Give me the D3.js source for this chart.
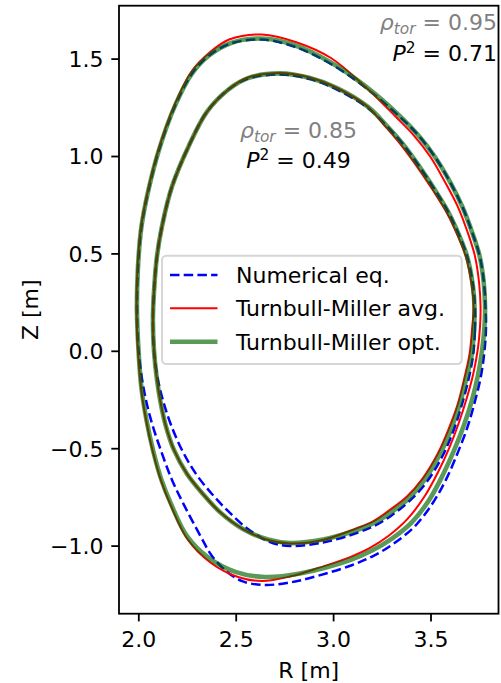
<!DOCTYPE html>
<html>
<head>
<meta charset="utf-8">
<script src="https://cdn.jsdelivr.net/npm/d3@7"></script>
<style>
  html, body { margin: 0; padding: 0; background: #fff; }
  svg { display: block; font-family: "DejaVu Sans", sans-serif; }
</style>
</head>
<body>
<svg id="chart" width="501" height="683"></svg>
<script>
// Axis limits (metres) and tick values
const rLimits = [1.9009, 3.849];
const zLimits = [-1.3496, 1.7716];
const rTicks = [2.0, 2.5, 3.0, 3.5];
const zTicks = [-1.0, -0.5, 0.0, 0.5, 1.0, 1.5];

// Flux surface at rho_tor = 0.95, [R, Z] in metres
const numerical095 = [[3.782,0.225],[3.785,0.122],[3.777,-0.001],[3.759,-0.129],[3.728,-0.260],[3.690,-0.391],[3.641,-0.520],[3.582,-0.656],[3.515,-0.776],[3.423,-0.897],[3.315,-0.987],[3.210,-1.051],[3.092,-1.102],[2.881,-1.166],[2.763,-1.192],[2.645,-1.202],[2.537,-1.184],[2.460,-1.138],[2.378,-1.053],[2.322,-0.956],[2.235,-0.792],[2.173,-0.663],[2.119,-0.520],[2.065,-0.355],[2.027,-0.191],[2.001,0.004],[1.993,0.209],[1.998,0.425],[2.016,0.636],[2.052,0.825],[2.106,1.031],[2.188,1.257],[2.276,1.424],[2.363,1.516],[2.476,1.578],[2.635,1.598],[2.799,1.562],[2.984,1.475],[3.159,1.357],[3.346,1.198],[3.436,1.108],[3.523,0.995],[3.600,0.867],[3.664,0.738],[3.713,0.610],[3.752,0.487],[3.774,0.353]];
const millerAvg095 = [[3.757,0.225],[3.754,0.122],[3.744,0.017],[3.721,-0.111],[3.687,-0.240],[3.646,-0.368],[3.598,-0.494],[3.539,-0.622],[3.469,-0.748],[3.382,-0.863],[3.287,-0.948],[3.189,-1.012],[3.087,-1.059],[2.933,-1.112],[2.779,-1.159],[2.635,-1.182],[2.512,-1.161],[2.373,-1.089],[2.255,-0.971],[2.168,-0.797],[2.117,-0.668],[2.075,-0.520],[2.040,-0.355],[2.014,-0.191],[1.998,0.004],[1.991,0.209],[1.996,0.425],[2.014,0.636],[2.050,0.825],[2.104,1.033],[2.186,1.262],[2.273,1.434],[2.363,1.529],[2.466,1.598],[2.635,1.624],[2.815,1.583],[2.989,1.503],[3.164,1.357],[3.328,1.195],[3.415,1.105],[3.500,0.995],[3.574,0.867],[3.641,0.738],[3.690,0.610],[3.728,0.487],[3.749,0.353]];
const millerOpt095 = [[3.780,0.225],[3.777,0.122],[3.765,0.004],[3.744,-0.124],[3.713,-0.253],[3.672,-0.381],[3.622,-0.509],[3.563,-0.638],[3.493,-0.766],[3.405,-0.879],[3.302,-0.964],[3.200,-1.025],[3.087,-1.074],[2.830,-1.143],[2.650,-1.161],[2.502,-1.136],[2.363,-1.064],[2.250,-0.951],[2.168,-0.786],[2.119,-0.663],[2.078,-0.520],[2.042,-0.355],[2.016,-0.191],[2.001,0.004],[1.993,0.209],[1.998,0.425],[2.016,0.636],[2.052,0.825],[2.106,1.031],[2.188,1.257],[2.276,1.424],[2.363,1.516],[2.476,1.580],[2.635,1.603],[2.799,1.570],[2.984,1.483],[3.159,1.364],[3.343,1.205],[3.436,1.108],[3.523,0.995],[3.600,0.867],[3.664,0.738],[3.713,0.610],[3.752,0.487],[3.773,0.353]];

// Flux surface at rho_tor = 0.85, [R, Z] in metres
const numerical085 = [[3.728,0.225],[3.728,0.102],[3.718,-0.027],[3.693,-0.155],[3.659,-0.283],[3.616,-0.414],[3.559,-0.545],[3.480,-0.674],[3.397,-0.766],[3.300,-0.845],[3.215,-0.897],[3.128,-0.933],[2.948,-0.984],[2.779,-1.002],[2.676,-0.982],[2.563,-0.915],[2.460,-0.822],[2.378,-0.735],[2.296,-0.632],[2.224,-0.509],[2.168,-0.381],[2.129,-0.263],[2.101,-0.150],[2.081,-0.006],[2.075,0.158],[2.081,0.312],[2.096,0.487],[2.122,0.641],[2.173,0.843],[2.258,1.049],[2.353,1.228],[2.466,1.344],[2.563,1.398],[2.727,1.418],[2.881,1.395],[3.020,1.341],[3.179,1.246],[3.272,1.157],[3.356,1.064],[3.444,0.944],[3.523,0.825],[3.585,0.723],[3.628,0.636],[3.687,0.487],[3.718,0.338]];
const millerAvg085 = [[3.721,0.225],[3.713,0.107],[3.700,-0.019],[3.672,-0.147],[3.639,-0.276],[3.592,-0.404],[3.536,-0.530],[3.459,-0.656],[3.379,-0.748],[3.284,-0.822],[3.205,-0.876],[3.118,-0.912],[2.948,-0.971],[2.779,-0.989],[2.666,-0.971],[2.537,-0.915],[2.419,-0.828],[2.332,-0.735],[2.250,-0.632],[2.183,-0.509],[2.140,-0.381],[2.114,-0.263],[2.096,-0.150],[2.081,-0.006],[2.075,0.158],[2.081,0.312],[2.096,0.487],[2.122,0.641],[2.173,0.843],[2.258,1.049],[2.353,1.228],[2.466,1.344],[2.563,1.403],[2.727,1.426],[2.881,1.403],[3.020,1.349],[3.179,1.252],[3.266,1.154],[3.349,1.056],[3.436,0.938],[3.515,0.820],[3.577,0.720],[3.621,0.633],[3.680,0.487],[3.711,0.338]];
const millerOpt085 = [[3.726,0.225],[3.723,0.107],[3.711,-0.022],[3.682,-0.150],[3.649,-0.278],[3.604,-0.407],[3.546,-0.535],[3.469,-0.663],[3.390,-0.756],[3.292,-0.833],[3.210,-0.884],[3.123,-0.920],[2.948,-0.969],[2.779,-0.987],[2.666,-0.969],[2.537,-0.915],[2.419,-0.828],[2.332,-0.735],[2.250,-0.632],[2.183,-0.509],[2.140,-0.381],[2.114,-0.263],[2.096,-0.150],[2.081,-0.006],[2.075,0.158],[2.081,0.312],[2.096,0.487],[2.122,0.641],[2.173,0.843],[2.258,1.049],[2.353,1.228],[2.466,1.344],[2.563,1.400],[2.727,1.424],[2.881,1.400],[3.020,1.349],[3.179,1.252],[3.272,1.159],[3.356,1.064],[3.444,0.944],[3.523,0.825],[3.585,0.723],[3.628,0.636],[3.687,0.487],[3.717,0.338]];

const legendLabels = ["Numerical eq.", "Turnbull-Miller avg.", "Turnbull-Miller opt."];

// Surface annotations
const rhoValues = ["0.95", "0.85"];
const fitQuality = ["0.71", "0.49"];

const svg = d3.select("#chart");
const plot = { left: 119, right: 498.5, top: 5.7, bottom: 613.7 };
const FONT = 22;

const x = d3.scaleLinear().domain(rLimits).range([plot.left, plot.right]);
const y = d3.scaleLinear().domain(zLimits).range([plot.bottom, plot.top]);

const styles = [
  { stroke: "#0000ff", width: 2.5, dash: "9.5,4.2", opacity: 1 },
  { stroke: "#ff0000", width: 2.0, dash: null, opacity: 1 },
  { stroke: "#006400", width: 4.6, dash: null, opacity: 0.65 }
];

const line = d3.line()
  .x(d => x(d[0]))
  .y(d => y(d[1]))
  .curve(d3.curveCatmullRomClosed.alpha(0.5));

const surfaces = [
  [numerical095, millerAvg095, millerOpt095],
  [numerical085, millerAvg085, millerOpt085]
];

const curves = svg.append("g");
surfaces.forEach(set => {
  set.forEach((pts, i) => {
    const s = styles[i];
    curves.append("path")
      .attr("d", line(pts))
      .attr("fill", "none")
      .attr("stroke", s.stroke)
      .attr("stroke-width", s.width)
      .attr("stroke-dasharray", s.dash)
      .attr("stroke-opacity", s.opacity)
      .attr("stroke-linejoin", "round");
  });
});

// Axes
const fmt = d3.format(".1f");
const yAxis = svg.append("g")
  .attr("transform", `translate(${plot.left},0)`)
  .call(d3.axisLeft(y).tickValues(zTicks).tickFormat(fmt).tickSize(7.7).tickPadding(7.8));
const xAxis = svg.append("g")
  .attr("transform", `translate(0,${plot.bottom})`)
  .call(d3.axisBottom(x).tickValues(rTicks).tickFormat(fmt).tickSize(7.7).tickPadding(9.5));

[xAxis, yAxis].forEach(g => {
  g.select(".domain").remove();
  g.selectAll(".tick line").attr("stroke", "#000").attr("stroke-width", 1.8);
  g.selectAll(".tick text")
    .attr("fill", "#000")
    .style("font-size", FONT + "px")
    .style("font-family", "DejaVu Sans");
});
yAxis.selectAll(".tick text").attr("dy", "0.36em");

svg.append("rect")
  .attr("x", plot.left).attr("y", plot.top)
  .attr("width", plot.right - plot.left)
  .attr("height", plot.bottom - plot.top)
  .attr("fill", "none")
  .attr("stroke", "#000")
  .attr("stroke-width", 1.8);

// Axis labels
svg.append("text")
  .attr("x", (plot.left + plot.right) / 2)
  .attr("y", 678)
  .attr("text-anchor", "middle")
  .style("font-size", FONT + "px")
  .text("R [m]");
svg.append("text")
  .attr("transform", `translate(38,${(plot.top + plot.bottom) / 2}) rotate(-90)`)
  .attr("text-anchor", "middle")
  .style("font-size", FONT + "px")
  .text("Z [m]");

// Annotations: rho_tor and P^2 for each surface
function annotate(xPos, yRho, yP, anchor, rho, p2) {
  const t1 = svg.append("text")
    .attr("x", xPos).attr("y", yRho)
    .attr("text-anchor", anchor)
    .attr("fill", "#808080")
    .style("font-size", FONT + "px");
  t1.append("tspan").style("font-style", "italic").text("ρ");
  t1.append("tspan").style("font-style", "italic").style("font-size", (FONT * 0.7) + "px")
    .attr("dy", 4.5).text("tor");
  t1.append("tspan").attr("dy", -4.5).text(" = " + rho);

  const t2 = svg.append("text")
    .attr("x", xPos).attr("y", yP)
    .attr("text-anchor", anchor)
    .attr("fill", "#000")
    .style("font-size", FONT + "px");
  t2.append("tspan").style("font-style", "italic").text("P");
  t2.append("tspan").style("font-size", (FONT * 0.7) + "px").attr("dy", -8).text("2");
  t2.append("tspan").attr("dy", 8).text(" = " + p2);
}
annotate(497, 29.5, 60.5, "end", rhoValues[0], fitQuality[0]);
annotate(298.5, 137.5, 168, "middle", rhoValues[1], fitQuality[1]);

// Legend
const legend = svg.append("g");
legend.append("rect")
  .attr("x", 162).attr("y", 255.7)
  .attr("width", 299.7).attr("height", 108.3)
  .attr("rx", 4.4).attr("ry", 4.4)
  .attr("fill", "#fff").attr("fill-opacity", 0.8)
  .attr("stroke", "#d6d6d6").attr("stroke-width", 2);
const rowY = [275, 308.3, 341.7];
legendLabels.forEach((label, i) => {
  const s = styles[i];
  legend.append("line")
    .attr("x1", 170).attr("x2", 217.5)
    .attr("y1", rowY[i]).attr("y2", rowY[i])
    .attr("stroke", s.stroke)
    .attr("stroke-width", s.width)
    .attr("stroke-dasharray", s.dash)
    .attr("stroke-opacity", s.opacity);
  legend.append("text")
    .attr("x", 236).attr("y", rowY[i] + 8)
    .style("font-size", FONT + "px")
    .text(label);
});
</script>
</body>
</html>
